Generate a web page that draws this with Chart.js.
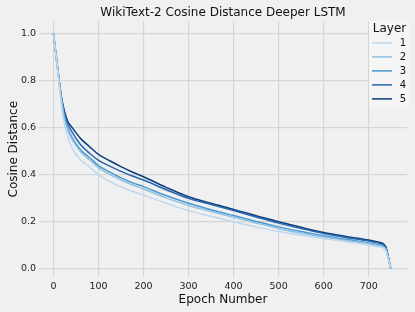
<!DOCTYPE html>
<html>
<head>
<meta charset="utf-8">
<script src="https://cdn.jsdelivr.net/npm/chart.js@4"></script>
<style>
  html, body { margin: 0; padding: 0; background: #f0f0f0; }
  #wrap { width: 415px; height: 312px; }
</style>
</head>
<body>
<div id="wrap"><canvas id="cosine_chart" width="415" height="312"></canvas></div>
<script>
// data
const epochs = [0, 10, 18, 25, 32, 40, 60, 80, 100, 125, 150, 175, 200, 250, 300, 350, 400, 450, 500, 550, 600, 650, 700, 720, 737, 749];
const layer1 = [1.0, 0.83, 0.69, 0.61, 0.56, 0.518, 0.462, 0.432, 0.398, 0.37, 0.347, 0.328, 0.312, 0.278, 0.246, 0.222, 0.199, 0.177, 0.157, 0.141, 0.128, 0.114, 0.100, 0.093, 0.080, 0.0];
const layer2 = [1.0, 0.84, 0.715, 0.63, 0.588, 0.553, 0.497, 0.462, 0.428, 0.40, 0.376, 0.356, 0.338, 0.300, 0.268, 0.242, 0.218, 0.193, 0.170, 0.150, 0.134, 0.119, 0.105, 0.098, 0.084, 0.0];
const layer3 = [1.0, 0.84, 0.72, 0.64, 0.597, 0.562, 0.505, 0.472, 0.437, 0.41, 0.385, 0.365, 0.348, 0.310, 0.277, 0.250, 0.225, 0.200, 0.177, 0.157, 0.139, 0.124, 0.109, 0.102, 0.087, 0.0];
const layer4 = [1.0, 0.84, 0.725, 0.655, 0.615, 0.585, 0.527, 0.49, 0.46, 0.435, 0.413, 0.393, 0.376, 0.335, 0.298, 0.272, 0.246, 0.219, 0.193, 0.170, 0.149, 0.132, 0.117, 0.109, 0.092, 0.0];
const layer5 = [1.0, 0.84, 0.725, 0.665, 0.624, 0.603, 0.553, 0.518, 0.485, 0.458, 0.433, 0.41, 0.39, 0.345, 0.305, 0.277, 0.251, 0.224, 0.199, 0.175, 0.153, 0.136, 0.121, 0.113, 0.096, 0.0];
const layerNames = ['1', '2', '3', '4', '5'];
const layerColors = ['#bdd7ee', '#8fc1e2', '#4a97cf', '#2767ad', '#0b3e7e'];
const xTicks = [0, 100, 200, 300, 400, 500, 600, 700];
const yTicks = [0.0, 0.2, 0.4, 0.6, 0.8, 1.0];

const allLayers = [layer1, layer2, layer3, layer4, layer5];

// background like matplotlib fivethirtyeight
const bgPlugin = {
  id: 'bg',
  beforeDraw(chart) {
    const c = chart.ctx;
    c.save();
    c.fillStyle = '#f0f0f0';
    c.fillRect(0, 0, chart.width, chart.height);
    c.restore();
  }
};

// legend box inside the plot, top right
const layerLegend = {
  id: 'layerLegend',
  afterDraw(chart) {
    const c = chart.ctx;
    const a = chart.chartArea;
    const bx = a.right - 38, by = a.top - 1, bw = 41, bh = 87;
    c.save();
    c.fillStyle = 'rgba(245,245,245,0.9)';
    c.fillRect(bx, by, bw, bh);
    c.fillStyle = '#111';
    c.font = '12px "DejaVu Sans"';
    c.textAlign = 'center';
    c.textBaseline = 'middle';
    c.fillText('Layer', bx + bw / 2, by + 8);
    c.font = '10px "DejaVu Sans"';
    c.textAlign = 'right';
    chart.data.datasets.forEach((ds, i) => {
      const y = by + 22.5 + i * 14;
      c.strokeStyle = ds.borderColor;
      c.lineWidth = 1.5;
      c.beginPath();
      c.moveTo(bx + 3, y);
      c.lineTo(bx + 23, y);
      c.stroke();
      c.fillStyle = '#111';
      c.fillText(ds.label, bx + 37, y + 0.5);
    });
    c.restore();
  }
};

const ctx = document.getElementById('cosine_chart');
new Chart(ctx, {
  type: 'line',
  data: {
    datasets: allLayers.map((vals, i) => ({
      label: layerNames[i],
      data: epochs.map((e, j) => ({ x: e, y: vals[j] })),
      borderColor: layerColors[i],
      borderWidth: 1.5,
      pointRadius: 0,
      cubicInterpolationMode: 'monotone',
      fill: false
    }))
  },
  options: {
    responsive: false,
    animation: false,
    devicePixelRatio: 1,
    layout: { padding: { left: 0, right: 8, top: 0, bottom: 0 } },
    plugins: {
      legend: { display: false },
      tooltip: { enabled: false },
      title: {
        display: true,
        text: 'WikiText-2 Cosine Distance Deeper LSTM',
        color: '#111',
        font: { family: 'DejaVu Sans', size: 12, weight: 'normal' },
        fullSize: false,
        padding: { top: 6, bottom: 1 }
      }
    },
    scales: {
      x: {
        type: 'linear',
        min: -32,
        max: 785,
        afterBuildTicks: s => { s.ticks = xTicks.map(v => ({ value: v })); },
        afterFit: s => { s.height = 35; },
        grid: { color: '#d5d5d5', lineWidth: 1.2, drawTicks: false },
        border: { display: false },
        ticks: { color: '#222', padding: 4, maxRotation: 0, font: { family: 'DejaVu Sans', size: 9.5 } },
        title: {
          display: true,
          text: 'Epoch Number',
          color: '#111',
          font: { family: 'DejaVu Sans', size: 12 },
          padding: { top: 0, bottom: 5 }
        }
      },
      y: {
        min: -0.036,
        max: 1.05,
        afterBuildTicks: s => { s.ticks = yTicks.map(v => ({ value: v })); },
        afterFit: s => { s.width = 39; },
        grid: { color: '#d5d5d5', lineWidth: 1.2, drawTicks: false },
        border: { display: false },
        ticks: {
          color: '#222',
          padding: 3,
          font: { family: 'DejaVu Sans', size: 9.5 },
          callback: v => v.toFixed(1)
        },
        title: {
          display: true,
          text: 'Cosine Distance',
          color: '#111',
          font: { family: 'DejaVu Sans', size: 12 },
          padding: { top: 7, bottom: 0 }
        }
      }
    }
  },
  plugins: [bgPlugin, layerLegend]
});
</script>
</body>
</html>
